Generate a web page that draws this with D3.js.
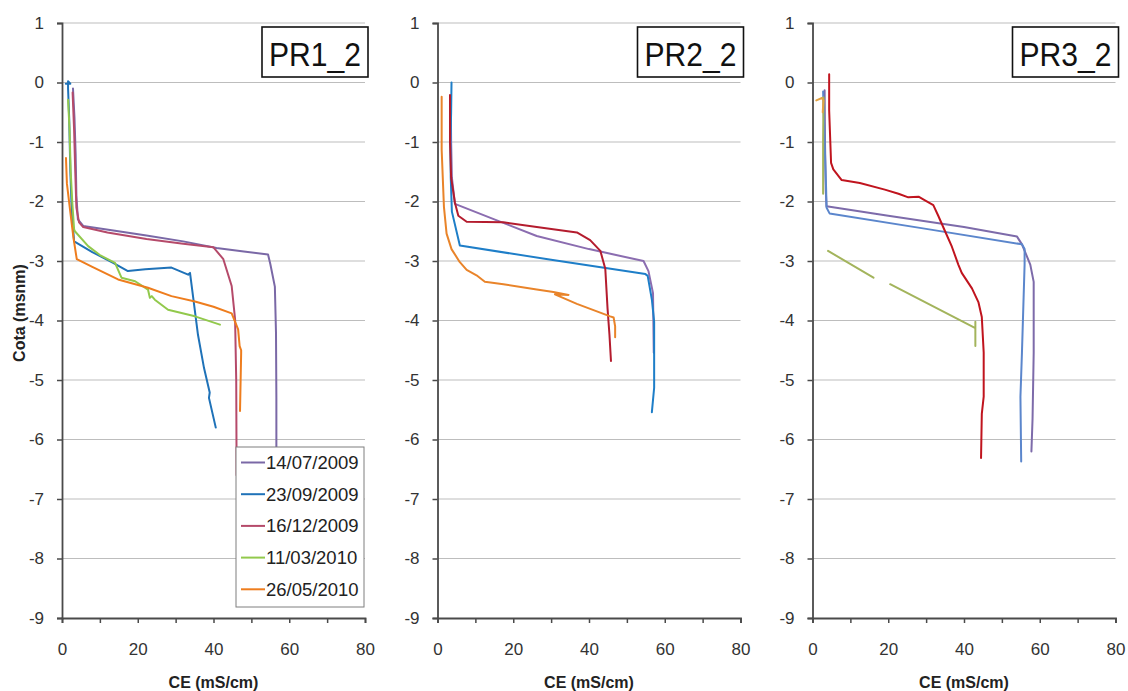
<!DOCTYPE html>
<html><head><meta charset="utf-8">
<script src="https://cdn.jsdelivr.net/npm/d3@7"></script>
<style>
html,body{margin:0;padding:0;background:#fff;}
svg{display:block;font-family:"Liberation Sans",Arial,sans-serif;}
</style></head>
<body>
<script>
// ---------- DATA ----------
const panelNames = ["PR1_2", "PR2_2", "PR3_2"];
const dates = ["14/07/2009", "23/09/2009", "16/12/2009", "11/03/2010", "26/05/2010"];
const xTicks = [0, 10, 20, 30, 40, 50, 60, 70, 80];
const xLabels = [0, 20, 40, 60, 80];
const yTicks = [1, 0, -1, -2, -3, -4, -5, -6, -7, -8, -9];

// each point: [CE (mS/cm), Cota (msnm)]
// PR1_2
const pr1_140709 = [[2.9,-0.1],[3.3,-0.6],[3.6,-1.2],[3.8,-1.9],[4.2,-2.3],[5.6,-2.41],[14,-2.49],[22.3,-2.57],[32,-2.67],[40.8,-2.78],[48,-2.84],[54.4,-2.89],[55.0,-3.05],[56.2,-3.43],[56.5,-4.2],[56.6,-5.3],[56.6,-6.6]];
const pr1_230909 = [[1.0,-0.02],[2.2,-0.02],[1.6,0.02],[1.6,-0.1],[1.9,-0.6],[2.2,-1.5],[2.6,-2.2],[3.2,-2.67],[8,-2.85],[13.5,-3.03],[17.4,-3.17],[22,-3.14],[28.9,-3.11],[33.3,-3.23],[33.8,-3.2],[35.9,-4.24],[37.5,-4.8],[39,-5.21],[38.8,-5.3],[40.6,-5.8]];
const pr1_161209 = [[2.8,-0.17],[3.2,-0.8],[3.5,-1.5],[3.8,-2.1],[4.5,-2.35],[5.6,-2.43],[12,-2.52],[22.3,-2.63],[32,-2.71],[40,-2.77],[42.6,-2.97],[44.8,-3.42],[45.7,-3.98],[46.0,-5.0],[46.1,-6.6]];
const pr1_110310 = [[1.6,-0.29],[2.0,-0.8],[2.3,-1.5],[2.7,-2.0],[3.2,-2.47],[3.4,-2.5],[6.9,-2.75],[10,-2.9],[14,-3.03],[15.7,-3.28],[19.3,-3.34],[22.7,-3.48],[23.2,-3.62],[23.7,-3.59],[24.5,-3.65],[28,-3.82],[35.1,-3.93],[41.7,-4.07]];
const pr1_260510 = [[1.05,-1.27],[1.3,-1.7],[2.1,-2.13],[3.0,-2.6],[3.9,-2.97],[8,-3.1],[14.8,-3.31],[22.7,-3.45],[28.9,-3.59],[35.1,-3.68],[40,-3.77],[44.8,-3.88],[46.5,-4.15],[46.9,-4.43],[47.3,-4.5],[47.3,-4.55],[47.0,-5.52]];
// PR2_2
const pr2_140709 = [[3.5,-0.3],[3.6,-1.0],[3.8,-1.6],[4.6,-2.04],[15,-2.3],[26.2,-2.58],[40,-2.8],[54.4,-3.0],[55.7,-3.17],[56.9,-3.54],[57.1,-4.54]];
const pr2_230909 = [[3.7,0],[3.6,-0.5],[3.4,-1.0],[3.5,-1.6],[3.8,-2.17],[5.9,-2.74],[30,-2.98],[54.9,-3.22],[55.5,-3.25],[56.6,-3.65],[57.2,-4.02],[57.2,-5.13],[56.6,-5.54]];
const pr2_161209 = [[3.3,-0.21],[3.3,-1.0],[3.6,-1.6],[4.6,-2.02],[5.5,-2.24],[7.7,-2.34],[17.4,-2.35],[26.2,-2.43],[36.8,-2.52],[40.3,-2.65],[43,-2.83],[44.3,-3.13],[44.9,-3.8],[45.4,-4.24],[45.8,-4.68]];
const pr2_110310 = [];
const pr2_260510 = [[1.1,-0.24],[1.1,-1.13],[1.7,-2.09],[2.4,-2.54],[3.7,-2.8],[5.9,-3.02],[7.7,-3.15],[10.3,-3.24],[12.5,-3.35],[17.4,-3.39],[26.2,-3.48],[30.6,-3.52],[34.6,-3.57],[31,-3.56],[36.8,-3.72],[45.6,-3.93],[46.5,-3.95],[46.9,-4.1],[46.9,-4.28]];
// PR3_2
const pr3_140709 = [[3.2,-0.13],[3.3,-1.0],[3.5,-1.8],[3.7,-2.08],[20,-2.24],[40,-2.43],[54,-2.59],[55.3,-2.72],[57.5,-3.06],[58.4,-3.35],[58.4,-4.54],[58.1,-5.65],[57.8,-6.2]];
const pr3_230909 = [[2.8,-0.15],[3.2,-1.0],[3.6,-1.8],[3.7,-2.1],[4.5,-2.2],[30,-2.46],[55.3,-2.72],[56,-2.8],[56,-3.06],[55.3,-4.54],[54.9,-5.28],[55.1,-6.37]];
const pr3_161209 = [[4.4,0.14],[4.4,-0.47],[4.9,-1.35],[5.5,-1.46],[7.7,-1.64],[12.5,-1.69],[19.1,-1.8],[22.7,-1.87],[25.3,-1.93],[28,-1.92],[29.7,-1.98],[31.9,-2.06],[33.2,-2.24],[35,-2.5],[36.8,-2.76],[38.5,-3.06],[39.4,-3.2],[42.1,-3.46],[43.8,-3.69],[44.7,-3.94],[45.2,-4.54],[45.2,-5.28],[44.7,-5.57],[44.5,-6.31]];
const pr3_110310 = [[2.9,-0.25],[2.8,-1.0],[2.8,-1.87],null,[4.1,-2.83],[16.1,-3.28],null,[20.5,-3.39],[43,-4.13],[43,-4.02],[43,-4.43]];
const pr3_260510 = [[1.0,-0.3],[2.5,-0.26],[2.9,-0.3],[2.7,-0.5]];

// ---------- STYLE ----------
const panelSeries = [
  [pr1_140709, pr1_230909, pr1_161209, pr1_110310, pr1_260510],
  [pr2_140709, pr2_230909, pr2_161209, pr2_110310, pr2_260510],
  [pr3_140709, pr3_230909, pr3_161209, pr3_110310, pr3_260510]
];
const panelColors = [
  ["#7A68A6", "#1F72B8", "#B54A6A", "#92C94C", "#EE7D1E"],
  ["#8B6DB0", "#1E7EC8", "#B41C2E", "#92C94C", "#E9842A"],
  ["#7D6BAA", "#5B86CC", "#C0141E", "#A3B45C", "#E3A344"]
];
const panelLeft = [62, 437.5, 812.5];
const plotW = 303, yTop = 23, yBot = 618;

const svg = d3.select("body").append("svg").attr("width", 1128).attr("height", 691);
svg.append("rect").attr("width", 1128).attr("height", 691).attr("fill", "#fff");

panelNames.forEach((name, i) => {
  const x = d3.scaleLinear().domain([0, 80]).range([panelLeft[i], panelLeft[i] + plotW]);
  const y = d3.scaleLinear().domain([-9, 1]).range([yBot, yTop]);
  const g = svg.append("g");

  // gridlines
  g.selectAll("line.grid").data(yTicks.filter(t => t > -9)).join("line")
    .attr("x1", x(0)).attr("x2", x(80))
    .attr("y1", d => y(d)).attr("y2", d => y(d))
    .attr("stroke", "#BDBDBD").attr("stroke-width", 1.2);

  // series
  const line = d3.line().defined(d => d).x(d => x(d[0])).y(d => y(d[1]));
  panelSeries[i].forEach((s, k) => {
    if (!s.length) return;
    g.append("path").attr("d", line(s)).attr("fill", "none")
      .attr("stroke", panelColors[i][k]).attr("stroke-width", 2)
      .attr("stroke-linejoin", "round").attr("stroke-linecap", "round");
  });

  // axes
  const xa = g.append("g").attr("transform", `translate(0,${yBot})`)
    .call(d3.axisBottom(x).tickValues(xTicks).tickSize(5).tickPadding(20)
      .tickFormat(d => xLabels.includes(d) ? String(d) : ""));
  const ya = g.append("g").attr("transform", `translate(${x(0)},0)`)
    .call(d3.axisLeft(y).tickValues(yTicks).tickSize(5).tickPadding(13)
      .tickFormat(d => String(d)));
  [xa, ya].forEach(a => {
    a.select(".domain").attr("stroke", "#4a4a4a").attr("stroke-width", 1.8);
    a.selectAll(".tick line").attr("stroke", "#4a4a4a").attr("stroke-width", 1.5);
    a.selectAll(".tick text").attr("font-size", 17).attr("fill", "#333")
      .attr("font-family", "'Liberation Sans',Arial,sans-serif");
  });

  // x-axis title
  g.append("text").attr("x", x(40)).attr("y", 688).attr("text-anchor", "middle")
    .attr("font-size", 16).attr("font-weight", "bold").attr("fill", "#222")
    .text("CE (mS/cm)");

  // panel title box
  const bx = x(80) - 103;
  g.append("rect").attr("x", bx).attr("y", 27).attr("width", 106).attr("height", 50)
    .attr("fill", "#fff").attr("stroke", "#111").attr("stroke-width", 1.6);
  g.append("text").attr("x", bx + 53).attr("y", 66).attr("text-anchor", "middle")
    .attr("font-size", 34).attr("fill", "#111")
    .attr("textLength", 92).attr("lengthAdjust", "spacingAndGlyphs")
    .text(name);

  // legend (first panel only)
  if (i === 0) {
    const lx = x(80) - 129, ly = 447;
    const lg = g.append("g");
    lg.append("rect").attr("x", lx).attr("y", ly).attr("width", 128).attr("height", 160)
      .attr("fill", "#fff").attr("stroke", "#7f7f7f").attr("stroke-width", 1);
    dates.forEach((dt, k) => {
      const cy = ly + 15.5 + k * 31.7;
      lg.append("line").attr("x1", lx + 5).attr("x2", lx + 29).attr("y1", cy).attr("y2", cy)
        .attr("stroke", panelColors[0][k]).attr("stroke-width", 2);
      lg.append("text").attr("x", lx + 30).attr("y", cy + 6.5)
        .attr("font-size", 18.5).attr("fill", "#222").text(dt);
    });
  }
});

// y-axis title
svg.append("text").attr("transform", "translate(25,313) rotate(-90)")
  .attr("text-anchor", "middle").attr("font-size", 16).attr("font-weight", "bold")
  .attr("fill", "#222").text("Cota (msnm)");
</script>
</body></html>
